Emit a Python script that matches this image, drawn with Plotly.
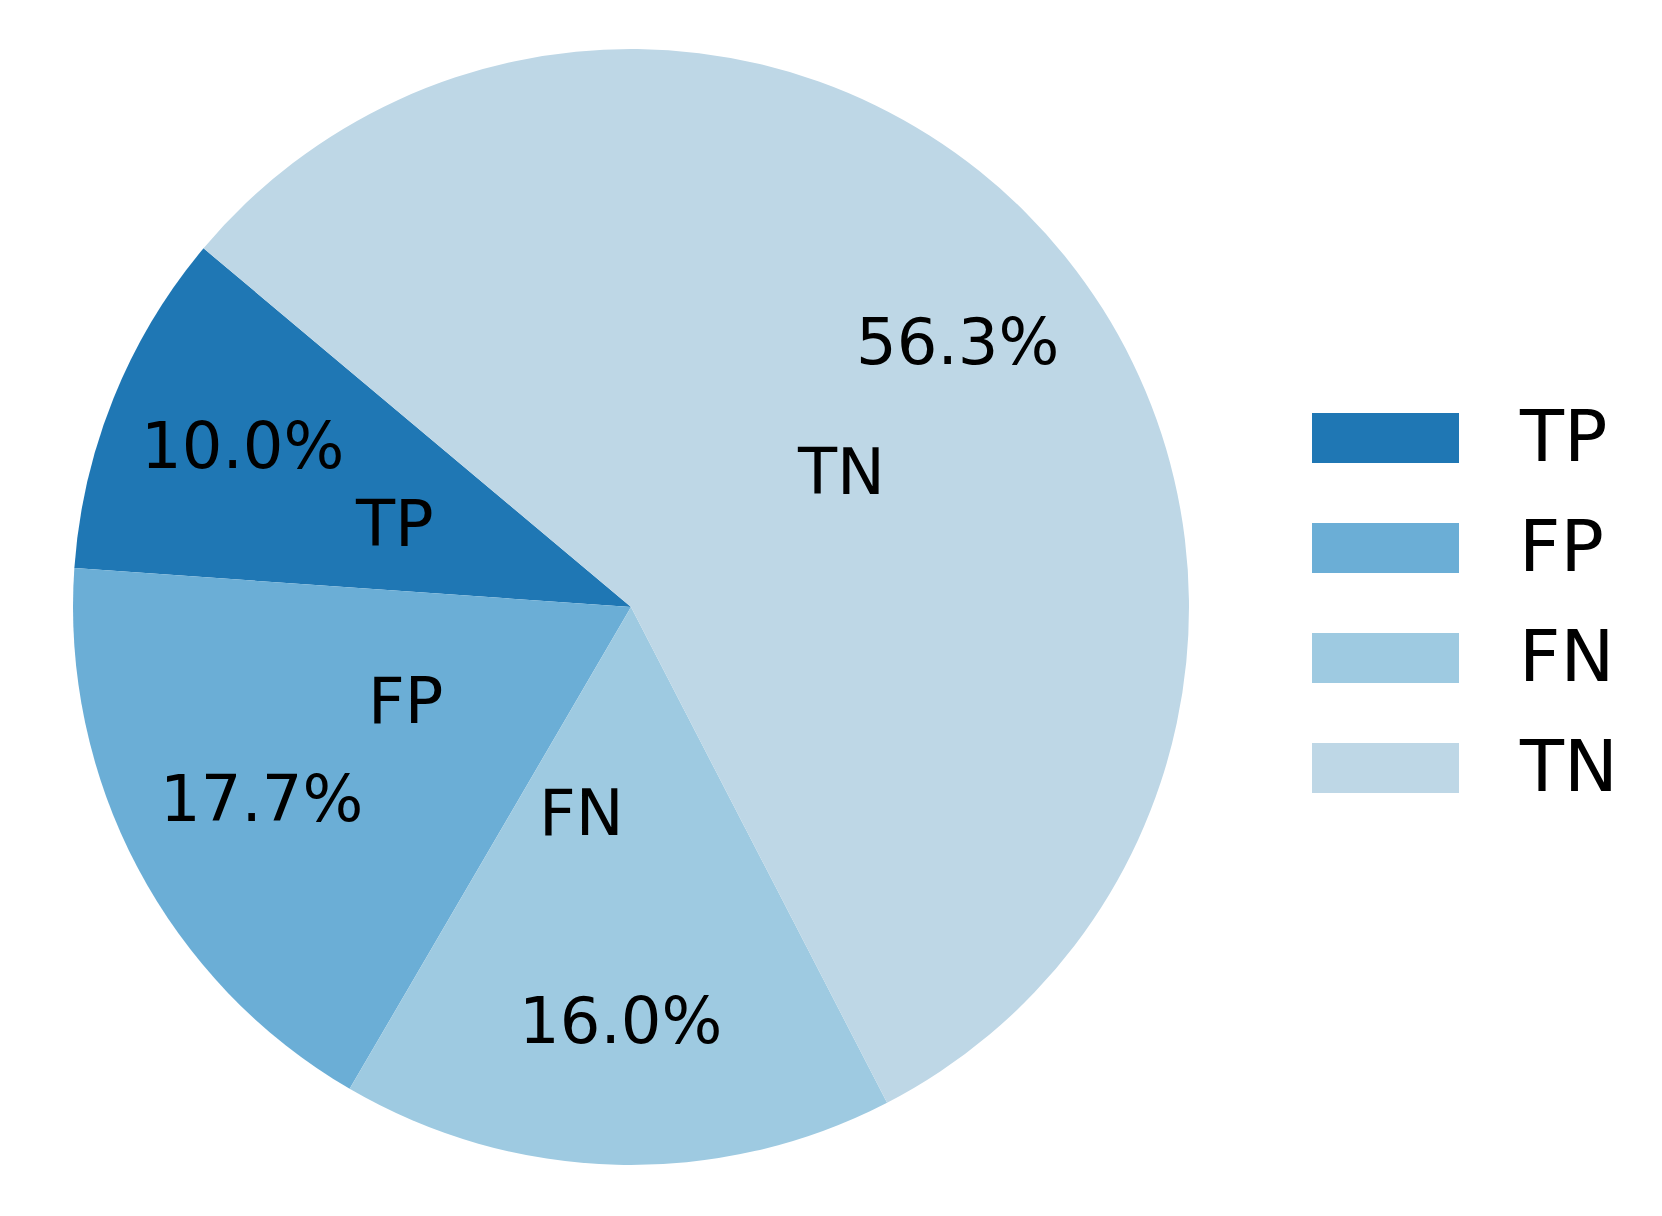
import math

import plotly.graph_objects as go

labels = ["TP", "FP", "FN", "TN"]
shares = [10.0, 17.7, 16.0, 56.3]
colors = ["#1f77b4", "#6baed6", "#9ecae1", "#bed7e6"]

W, H = 1662, 1216
CX, CY, R = 631, 607, 558  # pie centre / radius in pixels
START = 140  # first slice starts here (deg, counterclockwise)
FONT = "DejaVu Sans"

total = sum(shares)
# plotly puts the *end* of the first slice at `rotation` when counterclockwise
first_span = 360 * shares[0] / total


def px_to_paper(x, y):
    return x / W, 1 - y / H


fig = go.Figure(
    go.Pie(
        labels=labels,
        values=shares,
        marker=dict(colors=colors, line=dict(width=0)),
        sort=False,
        direction="counterclockwise",
        rotation=90 - START - first_span,
        textinfo="none",
        hoverinfo="label+percent",
        showlegend=False,
        domain=dict(
            x=[(CX - R) / W, (CX + R) / W],
            y=[1 - (CY + R) / H, 1 - (CY - R) / H],
        ),
    )
)

# slice labels and percentages, placed like matplotlib's autopct
angle = START
for lab, val in zip(labels, shares):
    span = 360 * val / total
    mid = math.radians(angle + span / 2)
    angle += span
    lx, ly = px_to_paper(CX + 0.377 * R * math.cos(mid), CY - 0.377 * R * math.sin(mid))
    fig.add_annotation(
        x=lx, y=ly, xref="paper", yref="paper", text=lab, showarrow=False,
        xanchor="left" if math.cos(mid) > 0 else "right", yanchor="middle",
        yshift=4,
        font=dict(family=FONT, size=64, color="black"),
    )
    px_, py_ = px_to_paper(CX + 0.75 * R * math.cos(mid), CY - 0.75 * R * math.sin(mid))
    fig.add_annotation(
        x=px_, y=py_, xref="paper", yref="paper", text=f"{100 * val / total:.1f}%",
        showarrow=False, xanchor="center", yanchor="middle", yshift=4,
        font=dict(family=FONT, size=64, color="black"),
    )

# legend drawn by hand so the patches match the matplotlib look
for i, (lab, col) in enumerate(zip(labels, colors)):
    row_y = 438 + i * 110
    x0, y0 = px_to_paper(1312, row_y + 25)
    x1, y1 = px_to_paper(1459, row_y - 25)
    fig.add_shape(
        type="rect", xref="paper", yref="paper", x0=x0, y0=y0, x1=x1, y1=y1,
        fillcolor=col, line=dict(width=0),
    )
    tx, ty = px_to_paper(1517, row_y - 2)
    fig.add_annotation(
        x=tx, y=ty, xref="paper", yref="paper", text=lab, showarrow=False,
        xanchor="left", yanchor="middle",
        font=dict(family=FONT, size=72, color="black"),
    )

fig.update_layout(
    width=W,
    height=H,
    margin=dict(l=0, r=0, t=0, b=0),
    paper_bgcolor="white",
    plot_bgcolor="white",
)

fig.write_html(
    "out.html",
    config={"displayModeBar": False},
    post_script="document.body.style.margin='0';",
)
